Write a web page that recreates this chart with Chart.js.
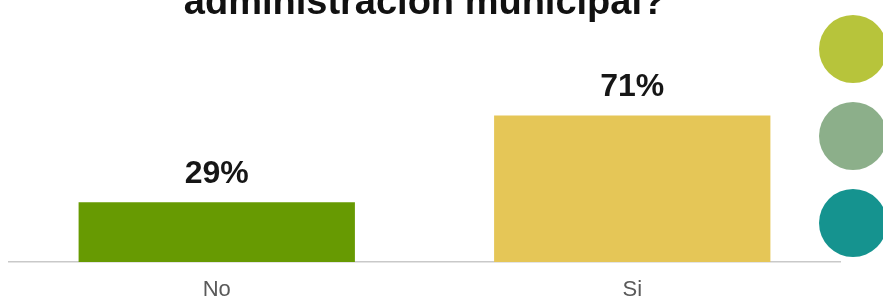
<!DOCTYPE html>
<html>
<head>
<meta charset="utf-8">
<script src="https://cdn.jsdelivr.net/npm/chart.js@4.4.1/dist/chart.umd.min.js"></script>
<style>
  html, body { margin: 0; padding: 0; background: #fff; overflow: hidden; }
  #wrap { position: absolute; left: 0; top: -19px; width: 883px; height: 338px; }
</style>
</head>
<body>
<div id="wrap"><canvas id="surveyChart"></canvas></div>
<script>
// Survey answers
const categories = ['No', 'Si'];
const percentages = [29, 71];
const barColors = ['#679a02', '#e5c657'];
const titleText = 'administración municipal?';

// Value labels above each bar
const valueLabels = {
    id: 'valueLabels',
    afterDatasetsDraw(chart) {
        const ctx = chart.ctx;
        const meta = chart.getDatasetMeta(0);
        ctx.save();
        ctx.font = 'bold 32px "Liberation Sans", Arial, sans-serif';
        ctx.fillStyle = '#161616';
        ctx.textAlign = 'center';
        ctx.textBaseline = 'alphabetic';
        meta.data.forEach((bar, i) => {
            ctx.fillText(percentages[i] + '%', bar.x, bar.y - 19);
        });
        ctx.restore();
    }
};

// Decorative circles on the right edge (cut off)
const sideDots = {
    id: 'sideDots',
    afterDraw(chart) {
        const ctx = chart.ctx;
        const colors = ['#b7c43b', '#8caf8a', '#15938f'];
        ctx.save();
        colors.forEach((c, i) => {
            ctx.beginPath();
            ctx.arc(853, 68 + i * 87, 34, 0, Math.PI * 2);
            ctx.fillStyle = c;
            ctx.fill();
        });
        ctx.restore();
    }
};

const ctx = document.getElementById('surveyChart').getContext('2d');
const surveyChart = new Chart(ctx, {
    type: 'bar',
    data: {
        labels: categories,
        datasets: [{
            data: percentages,
            backgroundColor: barColors,
            categoryPercentage: 1,
            barPercentage: 0.665
        }]
    },
    options: {
        responsive: true,
        maintainAspectRatio: false,
        animation: false,
        layout: { padding: { left: 9, right: 43, top: 0, bottom: 1 } },
        plugins: {
            legend: { display: false },
            tooltip: { enabled: false },
            title: {
                display: true,
                text: titleText,
                color: '#111',
                font: { family: '"Liberation Sans", Arial, sans-serif', size: 38, weight: 'bold', lineHeight: 1.2 },
                padding: { top: 0, bottom: 29 }
            }
        },
        scales: {
            x: {
                grid: { display: false, drawTicks: false },
                border: { display: true, color: '#c9c9c9', width: 1.5 },
                ticks: {
                    color: '#5a5a5a',
                    padding: 17,
                    font: { family: '"Liberation Sans", Arial, sans-serif', size: 22, lineHeight: 1.0 }
                }
            },
            y: {
                display: false,
                min: 0,
                max: 100
            }
        }
    },
    plugins: [valueLabels, sideDots]
});
</script>
</body>
</html>
